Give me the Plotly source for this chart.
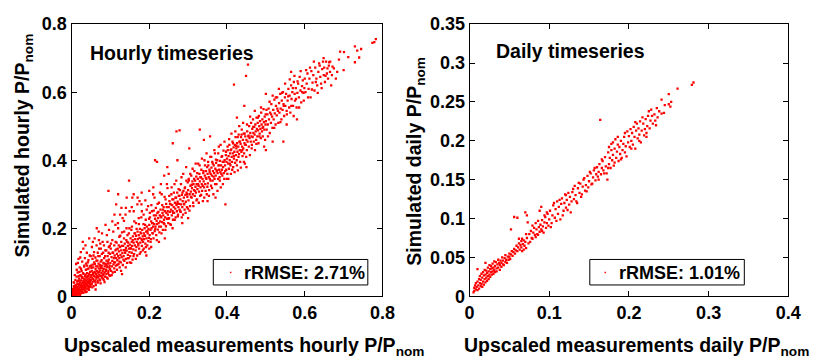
import plotly.graph_objects as go

# ---------------- data ----------------
# (upscaled measurement, simulated) pairs, hourly timeseries
hourly_points = [
    (0.001,0.002),(0.002,0.008),(0.003,0.001),(0.003,0.015),(0.004,0.005),(0.004,0.022),(0.005,0.010),(0.005,0.003),
    (0.006,0.030),(0.006,0.013),(0.007,0.006),(0.007,0.040),(0.008,0.018),(0.008,0.009),(0.009,0.026),(0.009,0.002),
    (0.010,0.014),(0.010,0.048),(0.011,0.007),(0.011,0.033),(0.012,0.020),(0.012,0.011),(0.013,0.058),(0.013,0.004),
    (0.014,0.025),(0.014,0.016),(0.015,0.037),(0.015,0.009),(0.016,0.070),(0.016,0.021),(0.017,0.013),(0.017,0.045),
    (0.018,0.029),(0.018,0.006),(0.019,0.018),(0.019,0.052),(0.020,0.034),(0.020,0.011),(0.021,0.024),(0.021,0.085),
    (0.022,0.040),(0.022,0.015),(0.023,0.062),(0.023,0.008),(0.024,0.028),(0.024,0.019),(0.025,0.047),(0.025,0.033),
    (0.026,0.013),(0.026,0.075),(0.027,0.038),(0.027,0.024),(0.028,0.056),(0.028,0.017),(0.029,0.030),(0.029,0.160),
    (0.030,0.043),(0.030,0.021),(0.031,0.066),(0.031,0.011),(0.032,0.035),(0.032,0.052),(0.033,0.026),(0.033,0.090),
    (0.034,0.041),(0.034,0.018),(0.035,0.060),(0.035,0.032),(0.036,0.047),(0.036,0.024),(0.037,0.078),(0.037,0.038),
    (0.038,0.029),(0.038,0.055),(0.039,0.044),(0.039,0.014),(0.040,0.068),(0.040,0.035),(0.041,0.050),(0.041,0.022),
    (0.042,0.100),(0.042,0.041),(0.043,0.059),(0.043,0.030),(0.044,0.046),(0.044,0.082),(0.045,0.037),(0.045,0.019),
    (0.046,0.064),(0.046,0.052),(0.047,0.028),(0.047,0.120),(0.048,0.044),(0.048,0.072),(0.049,0.035),(0.049,0.057),
    (0.002,0.004),(0.004,0.012),(0.006,0.002),(0.008,0.028),(0.011,0.003),(0.013,0.027),(0.016,0.005),(0.019,0.036),
    (0.022,0.003),(0.025,0.060),(0.028,0.010),(0.031,0.044),(0.034,0.028),(0.037,0.012),(0.040,0.090),(0.044,0.024),
    (0.047,0.040),(0.018,0.110),(0.036,0.150),(0.012,0.095),(0.024,0.130),
    (0.050,0.048),(0.050,0.090),(0.051,0.062),(0.052,0.036),(0.052,0.075),(0.053,0.055),(0.054,0.110),(0.054,0.042),
    (0.055,0.068),(0.056,0.051),(0.056,0.085),(0.057,0.030),(0.058,0.060),(0.058,0.130),(0.059,0.072),(0.060,0.046),
    (0.060,0.095),(0.061,0.058),(0.062,0.080),(0.062,0.040),(0.063,0.066),(0.064,0.105),(0.064,0.052),(0.065,0.200),
    (0.065,0.074),(0.066,0.061),(0.067,0.088),(0.067,0.045),(0.068,0.070),(0.069,0.118),(0.069,0.056),(0.070,0.082),
    (0.071,0.064),(0.071,0.140),(0.072,0.050),(0.073,0.092),(0.073,0.076),(0.074,0.060),(0.075,0.102),(0.075,0.038),
    (0.076,0.084),(0.077,0.068),(0.078,0.125),(0.078,0.055),(0.079,0.090),(0.080,0.074),(0.080,0.160),(0.081,0.062),
    (0.082,0.098),(0.083,0.080),(0.083,0.048),(0.084,0.112),(0.085,0.070),(0.086,0.088),(0.087,0.135),(0.087,0.058),
    (0.088,0.095),(0.089,0.078),(0.090,0.105),(0.090,0.066),(0.091,0.180),(0.092,0.086),(0.093,0.118),(0.093,0.052),
    (0.094,0.096),(0.095,0.075),(0.096,0.145),(0.096,0.108),(0.097,0.062),(0.098,0.090),(0.099,0.125),(0.099,0.080),
    (0.055,0.160),(0.062,0.020),(0.070,0.190),(0.085,0.042),(0.095,0.310),(0.074,0.155),
    (0.100,0.098),(0.101,0.140),(0.102,0.075),(0.103,0.115),(0.104,0.088),(0.105,0.165),(0.105,0.104),(0.106,0.070),
    (0.107,0.128),(0.108,0.094),(0.109,0.112),(0.110,0.150),(0.110,0.082),(0.111,0.120),(0.112,0.100),(0.113,0.210),
    (0.113,0.135),(0.114,0.090),(0.115,0.112),(0.116,0.158),(0.117,0.125),(0.117,0.078),(0.118,0.106),(0.119,0.140),
    (0.120,0.118),(0.120,0.300),(0.121,0.095),(0.122,0.132),(0.123,0.175),(0.123,0.112),(0.124,0.085),(0.125,0.145),
    (0.126,0.122),(0.127,0.100),(0.128,0.160),(0.128,0.135),(0.129,0.115),(0.130,0.188),(0.131,0.127),(0.132,0.092),
    (0.133,0.148),(0.134,0.118),(0.135,0.170),(0.135,0.136),(0.136,0.104),(0.137,0.155),(0.138,0.128),(0.139,0.240),
    (0.140,0.142),(0.140,0.110),(0.141,0.165),(0.142,0.134),(0.143,0.098),(0.144,0.180),(0.145,0.148),(0.145,0.122),
    (0.146,0.158),(0.147,0.112),(0.148,0.140),(0.149,0.200),(0.149,0.130),(0.115,0.270),(0.130,0.065),(0.142,0.290),
    (0.150,0.152),(0.151,0.118),(0.152,0.170),(0.153,0.140),(0.154,0.195),(0.155,0.128),(0.155,0.160),(0.156,0.148),
    (0.157,0.108),(0.158,0.176),(0.159,0.138),(0.160,0.300),(0.160,0.158),(0.161,0.124),(0.162,0.185),(0.163,0.150),
    (0.164,0.168),(0.165,0.135),(0.166,0.215),(0.166,0.178),(0.167,0.145),(0.168,0.160),(0.169,0.120),(0.170,0.190),
    (0.171,0.168),(0.172,0.150),(0.173,0.230),(0.173,0.180),(0.174,0.140),(0.175,0.172),(0.176,0.198),(0.177,0.158),
    (0.178,0.130),(0.179,0.185),(0.180,0.168),(0.181,0.250),(0.181,0.148),(0.182,0.195),(0.183,0.176),(0.184,0.160),
    (0.185,0.212),(0.186,0.185),(0.186,0.140),(0.187,0.168),(0.188,0.200),(0.189,0.178),(0.190,0.155),(0.191,0.225),
    (0.192,0.190),(0.193,0.170),(0.194,0.205),(0.195,0.150),(0.196,0.185),(0.197,0.265),(0.198,0.198),(0.199,0.172),
    (0.148,0.340),(0.175,0.280),(0.190,0.130),
    (0.200,0.210),(0.201,0.180),(0.202,0.232),(0.203,0.195),(0.204,0.168),(0.205,0.220),(0.206,0.200),(0.207,0.250),
    (0.208,0.186),(0.209,0.215),(0.210,0.205),(0.211,0.170),(0.212,0.238),(0.213,0.212),(0.214,0.192),(0.215,0.400),
    (0.215,0.228),(0.216,0.205),(0.217,0.260),(0.218,0.180),(0.219,0.222),(0.220,0.212),(0.221,0.245),(0.222,0.196),
    (0.223,0.230),(0.224,0.215),(0.225,0.275),(0.226,0.188),(0.227,0.238),(0.228,0.220),(0.229,0.255),(0.230,0.205),
    (0.231,0.232),(0.232,0.300),(0.233,0.218),(0.234,0.245),(0.235,0.195),(0.236,0.238),(0.237,0.262),(0.238,0.225),
    (0.239,0.212),(0.240,0.250),(0.241,0.232),(0.242,0.285),(0.243,0.206),(0.244,0.245),(0.245,0.262),(0.246,0.228),
    (0.247,0.318),(0.248,0.240),(0.249,0.215),(0.205,0.145),(0.225,0.160),(0.240,0.170),(0.220,0.395),
    (0.250,0.262),(0.251,0.230),(0.252,0.280),(0.253,0.248),(0.254,0.212),(0.255,0.270),(0.256,0.255),(0.257,0.300),
    (0.258,0.238),(0.259,0.268),(0.260,0.250),(0.261,0.225),(0.262,0.285),(0.263,0.262),(0.264,0.245),(0.265,0.330),
    (0.266,0.275),(0.267,0.258),(0.268,0.232),(0.269,0.290),(0.270,0.485),(0.270,0.268),(0.271,0.250),(0.272,0.305),
    (0.273,0.278),(0.274,0.240),(0.275,0.262),(0.276,0.295),(0.277,0.272),(0.278,0.488),(0.278,0.255),(0.279,0.312),
    (0.280,0.285),(0.281,0.248),(0.282,0.270),(0.283,0.350),(0.284,0.298),(0.285,0.262),(0.286,0.280),(0.287,0.240),
    (0.288,0.310),(0.289,0.290),(0.290,0.270),(0.291,0.255),(0.292,0.320),(0.293,0.298),(0.294,0.278),(0.295,0.380),
    (0.296,0.305),(0.297,0.262),(0.298,0.292),(0.299,0.335),(0.260,0.200),(0.285,0.215),
    (0.300,0.312),(0.301,0.282),(0.302,0.340),(0.303,0.435),(0.304,0.300),(0.305,0.265),(0.306,0.325),(0.307,0.308),
    (0.308,0.355),(0.309,0.290),(0.310,0.318),(0.311,0.338),(0.312,0.300),(0.313,0.275),(0.314,0.330),(0.315,0.312),
    (0.316,0.368),(0.317,0.295),(0.318,0.340),(0.319,0.322),(0.320,0.305),(0.321,0.352),(0.322,0.330),(0.323,0.285),
    (0.324,0.315),(0.325,0.345),(0.326,0.390),(0.327,0.325),(0.328,0.308),(0.329,0.360),(0.330,0.490),(0.330,0.338),
    (0.331,0.295),(0.332,0.320),(0.333,0.350),(0.334,0.372),(0.335,0.330),(0.336,0.310),(0.337,0.345),(0.338,0.280),
    (0.339,0.362),(0.340,0.338),(0.341,0.320),(0.342,0.400),(0.343,0.355),(0.344,0.330),(0.345,0.310),(0.346,0.368),
    (0.347,0.345),(0.348,0.300),(0.349,0.380),
    (0.350,0.360),(0.351,0.332),(0.352,0.385),(0.353,0.350),(0.354,0.312),(0.355,0.372),(0.356,0.345),(0.357,0.410),
    (0.358,0.360),(0.359,0.325),(0.360,0.378),(0.361,0.355),(0.362,0.395),(0.363,0.340),(0.364,0.368),(0.365,0.300),
    (0.366,0.385),(0.367,0.362),(0.368,0.345),(0.369,0.420),(0.370,0.375),(0.371,0.355),(0.372,0.392),(0.373,0.330),
    (0.374,0.370),(0.375,0.400),(0.376,0.362),(0.377,0.345),(0.378,0.385),(0.379,0.440),(0.380,0.372),(0.381,0.350),
    (0.382,0.398),(0.383,0.365),(0.384,0.320),(0.385,0.385),(0.386,0.410),(0.387,0.372),(0.388,0.355),(0.389,0.395),
    (0.390,0.380),(0.391,0.428),(0.392,0.362),(0.393,0.345),(0.394,0.400),(0.395,0.385),(0.396,0.270),(0.397,0.415),
    (0.398,0.372),(0.399,0.395),
    (0.400,0.405),(0.401,0.360),(0.402,0.430),(0.403,0.390),(0.404,0.412),(0.405,0.375),(0.406,0.445),(0.407,0.400),
    (0.408,0.420),(0.409,0.385),(0.410,0.360),(0.411,0.432),(0.412,0.410),(0.413,0.395),(0.414,0.455),(0.415,0.420),
    (0.416,0.380),(0.417,0.438),(0.418,0.622),(0.418,0.405),(0.419,0.425),(0.420,0.445),(0.421,0.392),(0.422,0.468),
    (0.423,0.415),(0.424,0.435),(0.425,0.400),(0.426,0.450),(0.427,0.425),(0.428,0.370),(0.429,0.440),(0.430,0.475),
    (0.431,0.418),(0.432,0.455),(0.433,0.430),(0.434,0.395),(0.435,0.448),(0.436,0.468),(0.437,0.425),(0.438,0.490),
    (0.439,0.440),(0.440,0.412),(0.441,0.460),(0.442,0.435),(0.443,0.478),(0.444,0.420),(0.445,0.450),(0.446,0.390),
    (0.447,0.470),(0.448,0.445),
    (0.449,0.648),(0.450,0.460),(0.451,0.430),(0.452,0.485),(0.453,0.455),(0.454,0.681),(0.455,0.470),(0.456,0.440),
    (0.457,0.500),(0.458,0.465),(0.459,0.415),(0.460,0.480),(0.461,0.455),(0.462,0.510),(0.463,0.470),(0.464,0.445),
    (0.465,0.492),(0.466,0.468),(0.467,0.520),(0.468,0.480),(0.469,0.455),(0.470,0.498),(0.471,0.475),(0.472,0.430),
    (0.473,0.505),(0.474,0.485),(0.475,0.460),(0.476,0.525),(0.477,0.492),(0.478,0.470),(0.479,0.510),(0.480,0.488),
    (0.481,0.450),(0.482,0.530),(0.483,0.500),(0.484,0.478),(0.485,0.515),(0.486,0.492),(0.487,0.465),(0.488,0.540),
    (0.489,0.505),(0.490,0.485),(0.491,0.520),(0.492,0.470),(0.493,0.498),(0.494,0.550),(0.495,0.512),(0.496,0.490),
    (0.497,0.528),(0.498,0.460),(0.499,0.505),
    (0.500,0.595),(0.500,0.515),(0.502,0.490),(0.504,0.535),(0.505,0.505),(0.507,0.552),(0.508,0.520),(0.510,0.480),
    (0.511,0.540),(0.513,0.510),(0.514,0.565),(0.516,0.528),(0.517,0.495),(0.519,0.548),(0.520,0.520),(0.522,0.578),
    (0.523,0.538),(0.525,0.505),(0.526,0.560),(0.528,0.532),(0.529,0.585),(0.531,0.545),(0.532,0.510),(0.534,0.568),
    (0.535,0.540),(0.537,0.595),(0.538,0.552),(0.540,0.520),(0.541,0.575),(0.543,0.548),(0.544,0.600),(0.546,0.560),
    (0.547,0.530),(0.549,0.585),(0.545,0.455),
    (0.550,0.560),(0.552,0.595),(0.554,0.535),(0.556,0.575),(0.558,0.610),(0.560,0.555),(0.561,0.590),(0.563,0.540),
    (0.565,0.620),(0.566,0.580),(0.568,0.600),(0.570,0.560),(0.572,0.630),(0.574,0.595),(0.575,0.575),(0.577,0.612),
    (0.579,0.555),(0.581,0.598),(0.583,0.625),(0.585,0.585),(0.587,0.645),(0.589,0.605),(0.591,0.570),(0.593,0.618),
    (0.595,0.635),(0.597,0.598),(0.599,0.612),(0.565,0.660),(0.580,0.520),
    (0.600,0.640),(0.602,0.600),(0.605,0.625),(0.607,0.655),(0.610,0.610),(0.612,0.640),(0.615,0.585),(0.617,0.662),
    (0.620,0.628),(0.622,0.650),(0.625,0.605),(0.627,0.672),(0.630,0.640),(0.632,0.620),(0.635,0.660),(0.637,0.685),
    (0.640,0.645),(0.642,0.625),(0.645,0.668),(0.647,0.690),(0.649,0.650),
    (0.650,0.672),(0.652,0.630),(0.655,0.690),(0.657,0.655),(0.660,0.640),(0.662,0.678),(0.663,0.688),(0.665,0.660),
    (0.668,0.620),(0.670,0.650),(0.675,0.670),(0.680,0.640),(0.688,0.696),(0.691,0.719),(0.701,0.718),(0.712,0.703),
    (0.729,0.688),(0.729,0.735),(0.735,0.722),(0.740,0.702),(0.745,0.727),(0.774,0.745),(0.779,0.747),(0.783,0.756),
    (0.700,0.665),
]

hourly_points_extra = [
    (0.0035,0.019),(0.0055,0.041),(0.0075,0.024),(0.0085,0.062),(0.0105,0.031),(0.0125,0.005),(0.0135,0.078),(0.0145,0.044),
    (0.0155,0.027),(0.0165,0.098),(0.0175,0.035),(0.0185,0.059),(0.0195,0.008),(0.0205,0.072),(0.0215,0.046),(0.0225,0.114),
    (0.0235,0.030),(0.0245,0.081),(0.0255,0.017),(0.0265,0.054),(0.0275,0.102),(0.0285,0.039),(0.0295,0.068),(0.0305,0.140),
    (0.0315,0.025),(0.0325,0.087),(0.0335,0.049),(0.0345,0.112),(0.0355,0.015),(0.0365,0.064),(0.0375,0.096),(0.0385,0.036),
    (0.0395,0.128),(0.0405,0.057),(0.0415,0.080),(0.0425,0.022),(0.0435,0.106),(0.0445,0.066),(0.0455,0.170),(0.0465,0.045),
    (0.0475,0.088),(0.0485,0.030),(0.0495,0.118),
    (0.0515,0.084),(0.0525,0.145),(0.0535,0.026),(0.0545,0.093),(0.0555,0.064),(0.0565,0.120),(0.0575,0.045),(0.0585,0.100),
    (0.0595,0.170),(0.0605,0.070),(0.0615,0.114),(0.0625,0.033),(0.0635,0.088),(0.0645,0.150),(0.0655,0.057),(0.0665,0.105),
    (0.0675,0.128),(0.0685,0.040),(0.0695,0.096),(0.0705,0.165),(0.0715,0.072),(0.0725,0.118),(0.0735,0.047),(0.0745,0.088),
    (0.0755,0.140),(0.0765,0.060),(0.0775,0.106),(0.0785,0.185),(0.0795,0.082),(0.0805,0.052),(0.0815,0.128),(0.0825,0.066),
    (0.0835,0.150),(0.0845,0.096),(0.0855,0.058),(0.0865,0.118),(0.0875,0.210),(0.0885,0.074),(0.0895,0.135),(0.0905,0.090),
    (0.0915,0.055),(0.0925,0.160),(0.0935,0.102),(0.0945,0.068),(0.0955,0.128),(0.0965,0.195),(0.0975,0.085),(0.0985,0.148),
    (0.0995,0.060),
    (0.1015,0.155),(0.1035,0.062),(0.1055,0.128),(0.1075,0.190),(0.1095,0.100),(0.1115,0.072),(0.1135,0.160),(0.1155,0.138),
    (0.1175,0.092),(0.1195,0.215),(0.1215,0.150),(0.1235,0.102),(0.1255,0.178),(0.1275,0.075),(0.1295,0.148),(0.1315,0.230),
    (0.1335,0.108),(0.1355,0.190),(0.1375,0.135),(0.1395,0.085),(0.1415,0.200),(0.1435,0.160),(0.1455,0.112),(0.1475,0.185),
    (0.1495,0.250),(0.1515,0.142),(0.1535,0.098),(0.1555,0.205),(0.1575,0.165),(0.1595,0.118),(0.1615,0.220),(0.1635,0.185),
    (0.1655,0.110),(0.1675,0.198),(0.1695,0.270),(0.1715,0.155),(0.1735,0.212),(0.1755,0.125),(0.1775,0.188),(0.1795,0.232),
    (0.1815,0.165),(0.1835,0.135),(0.1855,0.240),(0.1875,0.178),(0.1895,0.210),(0.1915,0.145),(0.1935,0.255),(0.1955,0.192),
    (0.1975,0.162),(0.1995,0.228),(0.1105,0.240),(0.1285,0.260),(0.1565,0.290),(0.1805,0.305),(0.1925,0.120),
    (0.1050,0.220),(0.1250,0.240),(0.1400,0.260),(0.1550,0.262),(0.1700,0.290),(0.1800,0.270),(0.2000,0.310),
    (0.2100,0.300),(0.2300,0.330),(0.2500,0.360),(0.1200,0.200),(0.1350,0.222),(0.1600,0.250),(0.1900,0.282),
    (0.1500,0.100),(0.2000,0.140),(0.3000,0.230),(0.3500,0.280),(0.4500,0.380),(0.5000,0.430),
    (0.2015,0.245),(0.2035,0.160),(0.2055,0.268),(0.2075,0.215),(0.2095,0.185),(0.2115,0.252),(0.2135,0.290),(0.2155,0.198),
    (0.2175,0.238),(0.2195,0.165),(0.2215,0.272),(0.2235,0.248),(0.2255,0.205),(0.2275,0.305),(0.2295,0.235),(0.2315,0.185),
    (0.2335,0.268),(0.2355,0.255),(0.2375,0.215),(0.2395,0.292),(0.2415,0.195),(0.2435,0.272),(0.2455,0.330),(0.2475,0.250),
    (0.2495,0.228),(0.2515,0.295),(0.2535,0.272),(0.2555,0.210),(0.2575,0.320),(0.2595,0.285),(0.2615,0.245),(0.2635,0.305),
    (0.2655,0.225),(0.2675,0.290),(0.2695,0.340),(0.2715,0.272),(0.2735,0.235),(0.2755,0.315),(0.2775,0.295),(0.2795,0.250),
    (0.2815,0.330),(0.2835,0.232),(0.2855,0.305),(0.2875,0.360),(0.2895,0.272),(0.2915,0.318),(0.2935,0.245),(0.2955,0.340),
    (0.2975,0.300),(0.2995,0.258),(0.2105,0.320),(0.2465,0.380),(0.2725,0.400),(0.2605,0.450),(0.2385,0.355),
    (0.3015,0.345),(0.3035,0.252),(0.3055,0.360),(0.3075,0.292),(0.3095,0.328),(0.3115,0.375),(0.3135,0.265),(0.3155,0.345),
    (0.3175,0.310),(0.3195,0.390),(0.3215,0.282),(0.3235,0.362),(0.3255,0.330),(0.3275,0.275),(0.3295,0.385),(0.3315,0.350),
    (0.3335,0.298),(0.3355,0.405),(0.3375,0.325),(0.3395,0.368),(0.3415,0.290),(0.3435,0.385),(0.3455,0.348),(0.3475,0.420),
    (0.3495,0.322),(0.3515,0.395),(0.3535,0.295),(0.3555,0.365),(0.3575,0.340),(0.3595,0.410),(0.3615,0.318),(0.3635,0.390),
    (0.3655,0.352),(0.3675,0.430),(0.3695,0.330),(0.3715,0.402),(0.3735,0.368),(0.3755,0.310),(0.3775,0.420),(0.3795,0.385),
    (0.3815,0.340),(0.3835,0.445),(0.3855,0.360),(0.3875,0.412),(0.3895,0.330),(0.3915,0.395),(0.3935,0.455),(0.3955,0.368),
    (0.3975,0.425),(0.3995,0.345),(0.3405,0.460),(0.3705,0.290),(0.3565,0.470),
    (0.4015,0.440),(0.4035,0.345),(0.4055,0.462),(0.4075,0.390),(0.4095,0.430),(0.4115,0.478),(0.4135,0.372),(0.4155,0.450),
    (0.4175,0.412),(0.4195,0.365),(0.4215,0.485),(0.4235,0.442),(0.4255,0.385),(0.4275,0.468),(0.4295,0.410),(0.4315,0.500),
    (0.4335,0.455),(0.4355,0.378),(0.4375,0.475),(0.4395,0.430),(0.4415,0.510),(0.4435,0.395),(0.4455,0.478),(0.4475,0.445),
    (0.4495,0.410),(0.4515,0.505),(0.4555,0.472),(0.4595,0.528),(0.4635,0.435),(0.4675,0.498),(0.4715,0.545),(0.4755,0.448),
    (0.4795,0.525),(0.4835,0.470),(0.4875,0.555),(0.4915,0.495),(0.4955,0.440),(0.4995,0.535),(0.4445,0.560),(0.4255,0.525),
    (0.5015,0.548),(0.5055,0.470),(0.5095,0.572),(0.5135,0.535),(0.5175,0.590),(0.5215,0.495),(0.5255,0.585),(0.5295,0.552),
    (0.5335,0.610),(0.5375,0.512),(0.5415,0.598),(0.5455,0.565),(0.5495,0.625),(0.5535,0.545),(0.5575,0.588),(0.5615,0.638),
    (0.5655,0.560),(0.5695,0.612),(0.5735,0.648),(0.5775,0.580),(0.5815,0.632),(0.5855,0.555),(0.5895,0.662),(0.5935,0.600),
    (0.5975,0.575),(0.5535,0.505),(0.5175,0.455),(0.5715,0.530),
    (0.6035,0.665),(0.6085,0.585),(0.6135,0.672),(0.6185,0.608),(0.6235,0.690),(0.6285,0.630),(0.6335,0.598),(0.6385,0.678),
    (0.6435,0.612),(0.6485,0.700),(0.6535,0.648),(0.6585,0.670),(0.6655,0.690),(0.6715,0.675),(0.6835,0.660),
]

# (upscaled measurement, simulated) pairs, daily timeseries
daily_points = [
    (0.005,0.005),(0.006,0.011),(0.006,0.007),(0.007,0.014),(0.008,0.009),(0.008,0.017),(0.009,0.012),(0.010,0.008),
    (0.010,0.035),(0.010,0.019),(0.011,0.014),(0.012,0.022),(0.012,0.010),(0.013,0.017),(0.013,0.026),(0.014,0.013),
    (0.014,0.021),(0.015,0.029),(0.015,0.016),(0.016,0.024),(0.016,0.012),(0.017,0.031),(0.017,0.019),(0.018,0.027),
    (0.018,0.015),(0.019,0.034),(0.019,0.022),(0.020,0.043),(0.020,0.028),(0.020,0.018),(0.021,0.033),(0.021,0.024),
    (0.022,0.030),(0.022,0.020),(0.023,0.037),(0.023,0.026),(0.024,0.032),(0.024,0.022),(0.025,0.040),(0.025,0.028),
    (0.026,0.035),(0.026,0.025),(0.027,0.031),(0.027,0.039),(0.028,0.028),(0.028,0.036),(0.029,0.032),(0.029,0.042),
    (0.030,0.029),(0.030,0.037),(0.031,0.034),(0.031,0.045),
    (0.032,0.031),(0.032,0.039),(0.033,0.044),(0.034,0.036),(0.034,0.032),(0.035,0.041),(0.036,0.047),(0.036,0.037),
    (0.037,0.043),(0.038,0.034),(0.038,0.040),(0.039,0.046),(0.040,0.038),(0.040,0.043),(0.041,0.050),(0.042,0.041),
    (0.042,0.046),(0.043,0.040),(0.044,0.049),(0.045,0.044),(0.045,0.053),(0.046,0.047),(0.047,0.043),(0.048,0.051),
    (0.049,0.047),(0.050,0.055),(0.050,0.051),(0.051,0.048),(0.052,0.086),(0.052,0.054),(0.053,0.058),(0.054,0.052),
    (0.055,0.057),(0.056,0.102),(0.056,0.061),(0.057,0.055),(0.058,0.059),(0.059,0.065),(0.060,0.101),(0.060,0.058),
    (0.061,0.063),(0.062,0.068),(0.063,0.060),(0.064,0.066),(0.065,0.071),(0.065,0.063),(0.066,0.074),(0.067,0.067),
    (0.068,0.060),(0.068,0.072),(0.069,0.065),(0.070,0.108),(0.070,0.070),(0.071,0.062),(0.072,0.104),(0.072,0.075),
    (0.073,0.095),(0.074,0.068),(0.075,0.080),(0.077,0.084),(0.078,0.075),(0.079,0.091),(0.080,0.082),(0.081,0.088),
    (0.082,0.079),(0.083,0.094),(0.084,0.086),(0.085,0.080),(0.086,0.097),(0.087,0.089),(0.088,0.110),(0.088,0.083),
    (0.089,0.092),(0.090,0.115),(0.090,0.086),(0.091,0.098),(0.092,0.090),(0.093,0.082),(0.094,0.095),(0.095,0.102),
    (0.096,0.088),(0.097,0.094),(0.098,0.106),(0.099,0.091),
    (0.100,0.099),(0.101,0.110),(0.103,0.094),(0.104,0.104),(0.105,0.117),(0.107,0.101),(0.108,0.112),(0.110,0.122),
    (0.111,0.106),(0.112,0.115),(0.114,0.099),(0.115,0.119),(0.116,0.126),(0.118,0.110),(0.119,0.120),(0.120,0.131),
    (0.121,0.114),(0.122,0.124),(0.124,0.133),(0.125,0.118),(0.126,0.128),(0.127,0.108),(0.128,0.122),(0.130,0.138),
    (0.131,0.125),(0.132,0.142),(0.133,0.130),(0.135,0.120),(0.136,0.139),(0.138,0.133),(0.139,0.145),(0.140,0.128),
    (0.142,0.141),(0.143,0.150),(0.145,0.136),(0.146,0.143),(0.148,0.155),(0.149,0.140),(0.150,0.148),(0.152,0.158),
    (0.153,0.144),(0.155,0.153),(0.156,0.162),(0.158,0.149),(0.159,0.157),
    (0.160,0.166),(0.161,0.154),(0.162,0.160),(0.163,0.170),(0.164,0.227),(0.165,0.157),(0.166,0.165),(0.167,0.174),
    (0.168,0.162),(0.170,0.179),(0.171,0.167),(0.172,0.158),(0.173,0.150),(0.174,0.185),(0.175,0.170),(0.175,0.192),
    (0.176,0.178),(0.177,0.165),(0.178,0.188),(0.179,0.175),(0.180,0.198),(0.180,0.182),(0.181,0.168),(0.182,0.190),
    (0.183,0.202),(0.184,0.178),(0.185,0.186),(0.186,0.195),(0.187,0.174),(0.188,0.192),(0.189,0.183),(0.190,0.200),
    (0.191,0.178),(0.192,0.188),(0.193,0.196),(0.194,0.205),(0.195,0.185),(0.196,0.193),(0.197,0.180),(0.198,0.212),
    (0.199,0.198),
    (0.200,0.206),(0.201,0.192),(0.202,0.215),(0.203,0.200),(0.204,0.210),(0.205,0.195),(0.206,0.218),(0.207,0.205),
    (0.208,0.190),(0.209,0.213),(0.210,0.222),(0.211,0.203),(0.212,0.216),(0.213,0.208),(0.214,0.225),(0.215,0.198),
    (0.216,0.213),(0.218,0.222),(0.219,0.207),(0.220,0.215),(0.221,0.228),(0.222,0.210),(0.223,0.219),(0.224,0.232),
    (0.225,0.238),(0.226,0.216),(0.227,0.226),(0.228,0.240),(0.230,0.222),(0.232,0.234),(0.233,0.226),(0.235,0.242),
    (0.236,0.230),(0.238,0.238),(0.241,0.253),(0.241,0.235),(0.245,0.246),(0.250,0.260),(0.250,0.247),(0.252,0.244),
    (0.261,0.267),(0.279,0.272),(0.281,0.275),
]

# further daily pairs from the wider part of the band
daily_points_extra = [
    (0.062,0.074),(0.066,0.058),(0.071,0.080),(0.076,0.070),(0.079,0.074),(0.083,0.076),(0.086,0.079),(0.091,0.084),
    (0.094,0.104),(0.097,0.108),(0.102,0.089),(0.106,0.120),(0.109,0.097),(0.113,0.124),(0.117,0.104),(0.121,0.130),
    (0.123,0.111),(0.129,0.134),(0.134,0.122),(0.137,0.146),(0.141,0.131),(0.144,0.152),(0.147,0.135),(0.151,0.160),
    (0.154,0.145),(0.157,0.165),(0.162,0.150),(0.166,0.176),(0.169,0.158),(0.174,0.165),(0.178,0.196),(0.182,0.172),
    (0.186,0.205),(0.190,0.176),(0.195,0.210),(0.203,0.190),(0.208,0.224),(0.213,0.200),(0.217,0.230),(0.222,0.205),
    (0.229,0.232),(0.234,0.220),(0.244,0.236),(0.253,0.250),
]

hourly_ticks = [0, 0.2, 0.4, 0.6, 0.8]
hourly_ticktext = ["0", "0.2", "0.4", "0.6", "0.8"]
daily_xticks = [0, 0.1, 0.2, 0.3, 0.4]
daily_xticktext = ["0", "0.1", "0.2", "0.3", "0.4"]
daily_yticks = [0, 0.05, 0.1, 0.15, 0.2, 0.25, 0.3, 0.35]
daily_yticktext = ["0", "0.05", "0.1", "0.15", "0.2", "0.25", "0.3", "0.35"]

hourly_rrmse = "rRMSE: 2.71%"
daily_rrmse = "rRMSE: 1.01%"

# ---------------- figure ----------------
W, H = 816, 363
def px(x):
    return x / W
def py(y):
    return 1 - y / H

FONT = "Liberation Sans"
RED = "rgb(255,0,0)"

all_hourly = hourly_points + hourly_points_extra
all_daily = daily_points + daily_points_extra
hx = [p[0] for p in all_hourly]
hy = [p[1] for p in all_hourly]
dx = [p[0] for p in all_daily]
dy = [p[1] for p in all_daily]

fig = go.Figure()
fig.add_trace(go.Scatter(x=hx, y=hy, mode="markers", xaxis="x", yaxis="y",
                         marker=dict(symbol="square", size=2.3, color=RED, line=dict(width=0)),
                         showlegend=False, hoverinfo="skip"))
fig.add_trace(go.Scatter(x=dx, y=dy, mode="markers", xaxis="x2", yaxis="y2",
                         marker=dict(symbol="square", size=2.3, color=RED, line=dict(width=0)),
                         showlegend=False, hoverinfo="skip"))

tickfont = dict(family=FONT, size=18, color="black", weight="bold")
axis_common = dict(showline=True, linecolor="black", linewidth=1, mirror="ticks",
                   ticks="inside", ticklen=5, tickwidth=1, tickcolor="black",
                   showgrid=False, zeroline=False, tickfont=tickfont, fixedrange=True)

ydom = [py(303), py(15)]
fig.update_layout(
    width=W, height=H, margin=dict(l=0, r=0, t=0, b=0),
    paper_bgcolor="white", plot_bgcolor="white", showlegend=False,
    xaxis=dict(domain=[px(68), px(386)], range=[0, 0.8], tickvals=hourly_ticks,
               ticktext=hourly_ticktext, anchor="y", **axis_common),
    yaxis=dict(domain=ydom, range=[0, 0.8], tickvals=hourly_ticks,
               ticktext=hourly_ticktext, anchor="x", **axis_common),
    xaxis2=dict(domain=[px(475), px(801)], range=[0, 0.4], tickvals=daily_xticks,
                ticktext=daily_xticktext, anchor="y2", **axis_common),
    yaxis2=dict(domain=ydom, range=[0, 0.35], tickvals=daily_yticks,
                ticktext=daily_yticktext, anchor="x2", **axis_common),
)

titlefont = dict(family=FONT, size=19.5, color="black", weight="bold")
ann = []
# panel labels
ann.append(dict(text="Hourly timeseries", x=px(85), y=py(45), xref="paper", yref="paper",
                xanchor="left", yanchor="middle", showarrow=False, font=titlefont))
ann.append(dict(text="Daily timeseries", x=px(500), y=py(43), xref="paper", yref="paper",
                xanchor="left", yanchor="middle", showarrow=False, font=titlefont))
# axis titles
ann.append(dict(text="Upscaled measurements hourly P/P<sub>nom</sub>", x=px(58), y=py(341),
                xref="paper", yref="paper", xanchor="left", yanchor="top", showarrow=False, font=titlefont))
ann.append(dict(text="Upscaled measurements daily P/P<sub>nom</sub>", x=px(467), y=py(341),
                xref="paper", yref="paper", xanchor="left", yanchor="top", showarrow=False, font=titlefont))
ann.append(dict(text="Simulated hourly P/P<sub>nom</sub>", x=px(4), y=py(143), textangle=-90,
                xref="paper", yref="paper", xanchor="left", yanchor="middle", showarrow=False, font=titlefont))
ann.append(dict(text="Simulated daily P/P<sub>nom</sub>", x=px(405), y=py(160), textangle=-90,
                xref="paper", yref="paper", xanchor="left", yanchor="middle", showarrow=False, font=titlefont))
# legend texts
legfont = dict(family=FONT, size=18, color="black", weight="bold")
ann.append(dict(text=hourly_rrmse, x=px(242), y=py(278), xref="paper", yref="paper",
                xanchor="left", yanchor="middle", showarrow=False, font=legfont))
ann.append(dict(text=daily_rrmse, x=px(626), y=py(278), xref="paper", yref="paper",
                xanchor="left", yanchor="middle", showarrow=False, font=legfont))

shapes = []
for (x0, x1, dotx) in [(213, 371, 230), (598, 756, 613)]:
    shapes.append(dict(type="rect", xref="paper", yref="paper", x0=px(x0), x1=px(x1),
                       y0=py(291), y1=py(264), line=dict(color="black", width=1),
                       fillcolor="white", layer="above"))
    shapes.append(dict(type="rect", xref="paper", yref="paper", x0=px(dotx), x1=px(dotx + 1.5),
                       y0=py(278.5), y1=py(277), line=dict(width=0), fillcolor=RED, layer="above"))

fig.update_layout(annotations=ann, shapes=shapes)
fig.write_html("out.html")
